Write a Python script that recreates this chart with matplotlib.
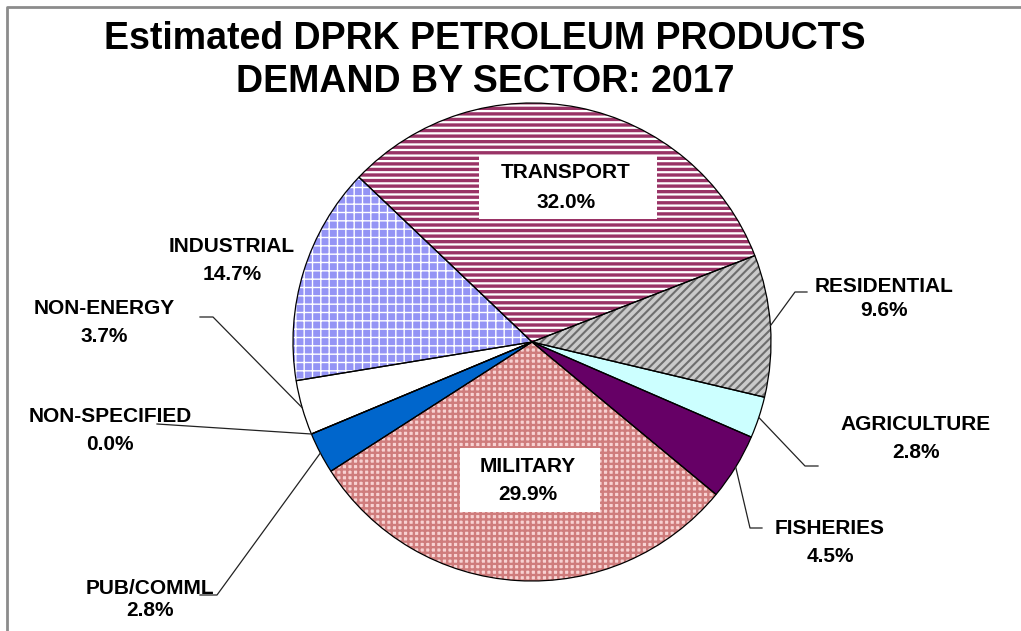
import numpy as np
import matplotlib
matplotlib.use('Agg')
import matplotlib.pyplot as plt
from matplotlib.patches import Rectangle

plt.rcParams['font.family'] = ['Liberation Sans', 'DejaVu Sans']

W, H = 1021, 631

# clockwise from the top-left edge of TRANSPORT
sectors = ['TRANSPORT', 'RESIDENTIAL', 'AGRICULTURE', 'FISHERIES', 'MILITARY',
           'PUB/COMML', 'NON-SPECIFIED', 'NON-ENERGY', 'INDUSTRIAL']
shares = [32.0, 9.6, 2.8, 4.5, 29.9, 2.8, 0.0, 3.7, 14.7]

# face, hatch, hatch colour, hatch lw (pt)
FILL = {
    'TRANSPORT':     ('white',   '---', '#993366', 2.4),
    'RESIDENTIAL':   ('#CACACA', '////', '#6E6E6E', 1.5),
    'AGRICULTURE':   ('#CCFFFF', None, '#CCFFFF', 0),
    'FISHERIES':     ('#660066', None, '#660066', 0),
    'MILITARY':      ('#F8D2D2', '+++', '#CF7C7C', 1.7),
    'PUB/COMML':     ('#0066CC', None, '#0066CC', 0),
    'NON-SPECIFIED': ('white',   None, 'white', 0),
    'NON-ENERGY':    ('white',   None, 'white', 0),
    'INDUSTRIAL':    ('#9494F5', '++', 'white', 1.0),
}

# label layout in image pixels: x, y of name line, y of value line
LAB = {
    'TRANSPORT':     (566, 173, 202),
    'MILITARY':      (528, 467, 494),
    'INDUSTRIAL':    (232, 247, 275),
    'NON-ENERGY':    (104, 309, 337),
    'NON-SPECIFIED': (110, 417, 445),
    'PUB/COMML':     (150, 588, 611),
    'RESIDENTIAL':   (884, 286, 310),
    'AGRICULTURE':   (916, 424, 452),
    'FISHERIES':     (830, 528, 557),
}
BOXES = {'TRANSPORT': (479, 156, 657, 219), 'MILITARY': (460, 448, 600, 512)}
# leader start points (near text) before reaching the slice edge
LEAD = {
    'RESIDENTIAL':   [(807, 292), (795, 292)],
    'AGRICULTURE':   [(818, 466), (805, 466)],
    'FISHERIES':     [(762, 528), (750, 528)],
    'PUB/COMML':     [(200, 595), (217, 595)],
    'NON-SPECIFIED': [(157, 424)],
    'NON-ENERGY':    [(200, 317), (213, 317)],
}

CX, CY, R = 532, 342, 239
START = 136.4


def P(x, y):
    return x, H - y


fig = plt.figure(figsize=(W / 100, H / 100), dpi=100)
ax = fig.add_axes([0, 0, 1, 1])

wedges, _ = ax.pie(shares, startangle=START, counterclock=False, radius=R,
                   center=P(CX, CY), wedgeprops=dict(linewidth=0))
for w, s in zip(wedges, sectors):
    fc, hatch, hc, hlw = FILL[s]
    w.set_facecolor(fc)
    w.set_edgecolor(hc)
    if hatch:
        w.set_hatch(hatch)
        if hasattr(w, 'set_hatch_linewidth'):
            w.set_hatch_linewidth(hlw)

ax.pie(shares, startangle=START, counterclock=False, radius=R,
       center=P(CX, CY), wedgeprops=dict(fill=False, edgecolor='black', linewidth=0.9))

ax.set_xlim(0, W)
ax.set_ylim(0, H)
ax.set_aspect('equal')
ax.axis('off')

# labels
for w, s, v in zip(wedges, sectors, shares):
    x, y1, y2 = LAB[s]
    if s in BOXES:
        x0, y0, x1, yb = BOXES[s]
        ax.add_patch(Rectangle(P(x0, yb), x1 - x0, yb - y0, fc='white', ec='none', zorder=3))
    ax.text(*P(x, y1), s, ha='center', va='center', fontsize=15, fontweight='bold', zorder=4)
    ax.text(*P(x, y2), f'{v:.1f}%', ha='center', va='center', fontsize=15, fontweight='bold', zorder=4)
    if s in LEAD:
        mid = np.deg2rad((w.theta1 + w.theta2) / 2)
        ex, ey = w.center[0] + R * np.cos(mid), w.center[1] + R * np.sin(mid)
        pts = [P(*p) for p in LEAD[s]] + [(ex, ey)]
        ax.plot([p[0] for p in pts], [p[1] for p in pts], color='#222222', lw=0.9, zorder=2)

# title
ax.text(*P(485, 39), 'Estimated DPRK PETROLEUM PRODUCTS', ha='center', va='center',
        fontsize=27, fontweight='bold')
ax.text(*P(485, 82), 'DEMAND BY SECTOR: 2017', ha='center', va='center',
        fontsize=27, fontweight='bold')

# frame lines on left and top
ax.plot([7, 7, W], [0, H - 7, H - 7], color='#8C8C8C', lw=2, solid_capstyle='butt')

fig.savefig('out.png', dpi=100)
